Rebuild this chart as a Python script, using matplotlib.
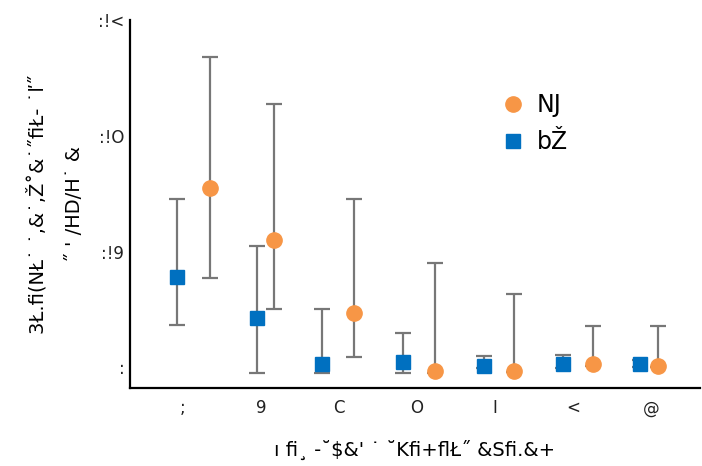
import matplotlib.pyplot as plt
from matplotlib.lines import Line2D
import numpy as np

# category tick labels (as they appear in the source)
tick_pos = [1, 2, 3, 4, 5, 6, 7]
tick_labels = [";", "9", "C", "O", "I", "<", "@"]
ytick_vals = [0.0, 0.2, 0.4, 0.6]
ytick_labels = [":", ":!9", ":!O", ":!<"]

# series 1 (orange circles)
nj_x = [1.35, 2.17, 3.19, 4.23, 5.24, 6.26, 7.09]
nj_val = [0.310, 0.220, 0.094, -0.007, -0.006, 0.005, 0.003]
nj_low = [0.154, 0.100, 0.018, -0.010, -0.008, 0.003, 0.001]
nj_high = [0.537, 0.455, 0.291, 0.181, 0.127, 0.072, 0.071]

# series 2 (blue squares)
bz_x = [0.92, 1.95, 2.79, 3.82, 4.86, 5.87, 6.86]
bz_val = [0.156, 0.086, 0.006, 0.009, 0.002, 0.005, 0.006]
bz_low = [0.073, -0.009, -0.009, -0.010, -0.002, -0.001, 0.000]
bz_high = [0.291, 0.209, 0.100, 0.059, 0.020, 0.022, 0.012]

xlabel = "ı ﬁ¸ -˘$&' ˙ ˘Kﬁ+ﬂŁ˝ &Sﬁ.&+"
ylabel = "3Ł.ﬁ(NŁ˙ ˙,&˙,Ž˚&˙˝ﬁŁ- ˙ľ˝\n˝ ' /HD/H˙ &"

plt.rcParams['font.family'] = ['DejaVu Sans']

fig = plt.figure(figsize=(7.02, 4.66), dpi=100)
ax = fig.add_axes([0.185, 0.167, 0.812, 0.79])

ORANGE = "#F79646"
BLUE = "#0070C0"


def yerr(val, low, high):
    val, low, high = map(np.asarray, (val, low, high))
    return [np.clip(val - low, 0, None), np.clip(high - val, 0, None)]


ax.errorbar(bz_x, bz_val, yerr=yerr(bz_val, bz_low, bz_high), fmt="s",
            color=BLUE, markersize=10.5, ecolor="#777777", elinewidth=1.6,
            capsize=5.5, capthick=1.6, zorder=2)
ax.errorbar(nj_x, nj_val, yerr=yerr(nj_val, nj_low, nj_high), fmt="o",
            color=ORANGE, markersize=11, ecolor="#777777", elinewidth=1.6,
            capsize=5.5, capthick=1.6, zorder=3)

ax.set_xlim(0.32, 7.63)
ax.set_ylim(-0.036, 0.593)
ax.set_xticks(tick_pos)
ax.set_xticklabels(tick_labels)
ax.set_yticks(ytick_vals)
ax.set_yticklabels(ytick_labels)
ax.tick_params(length=0, labelsize=12, colors="#222222")
ax.tick_params(axis="y", pad=4)
ax.tick_params(axis="x", pad=8)

for s in ["top", "right"]:
    ax.spines[s].set_visible(False)
for s in ["left", "bottom"]:
    ax.spines[s].set_linewidth(1.6)

ax.set_xlabel(xlabel, fontsize=14, labelpad=16)
ax.set_ylabel(ylabel, fontsize=14, labelpad=10, linespacing=2.2)

handles = [Line2D([], [], marker="o", ls="none", color=ORANGE, markersize=11),
           Line2D([], [], marker="s", ls="none", color=BLUE, markersize=10.5)]
ax.legend(handles, ["NJ", "bŽ"], frameon=False, fontsize=17,
          loc="upper left", bbox_to_anchor=(0.615, 0.86),
          handletextpad=0.5, labelspacing=0.55, handlelength=1.0)

fig.savefig("out.png", dpi=100)
